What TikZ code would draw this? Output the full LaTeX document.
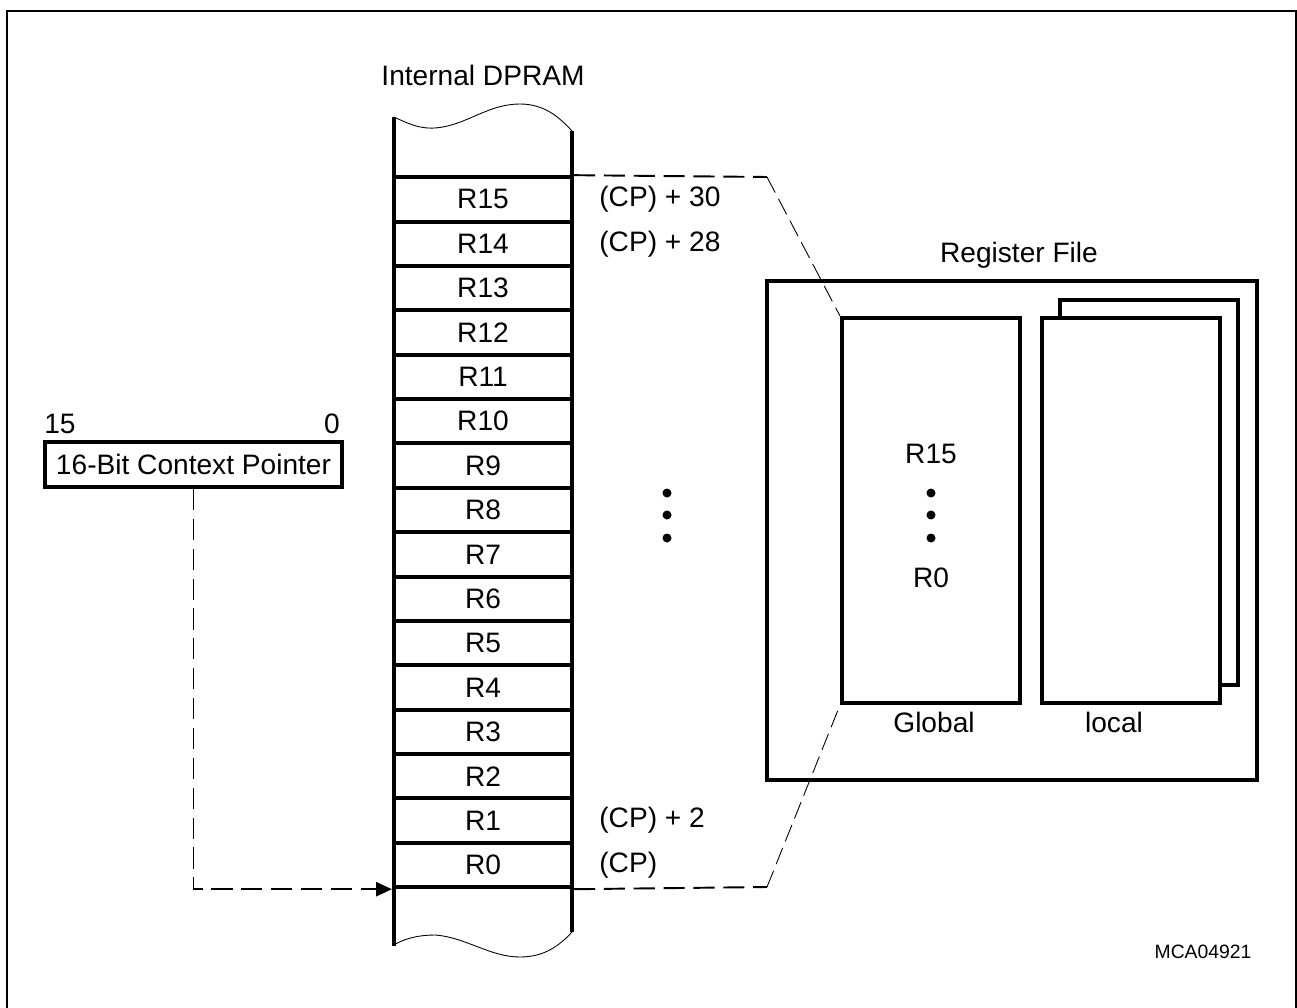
\documentclass[tikz,border=0pt]{standalone}
\usepackage{fontspec}
\setmainfont{Liberation Sans}
\usetikzlibrary{arrows.meta,positioning}

\begin{document}
\begin{tikzpicture}[x=0.02cm,y=-0.02cm,font=\fontsize{16}{19}\selectfont,
  reg/.style={draw,line width=2.3pt,minimum width=3.56cm,minimum height=0.8875cm,inner sep=0pt},
  bx/.style={draw,line width=2.3pt,fill=white,minimum width=3.56cm,minimum height=7.7cm},
  lbl/.style={inner sep=0pt},
  hdash/.style={line width=1.1pt,dash pattern=on 12pt off 5pt},
  ddash/.style={line width=0.5pt,dash pattern=on 10pt off 4pt},
  >=Stealth]
\useasboundingbox (0,0) rectangle (1297,1007);
\draw[line width=1.7pt] (7,1030) -- (7,11) -- (1296,11) -- (1296,1030);

\node at (483,75) {Internal DPRAM};
\foreach \i in {0,...,15}
  \node[reg] (r\i) at (483,{865-44.375*\i}) {R\i};
\draw[line width=2.3pt] (394,117) -- (394,946);
\draw[line width=2.3pt] (572,131) -- (572,932);
\draw[line width=0.5pt] (394,117) .. controls (415,127) and (425,130) .. (443,127)
  .. controls (470,122) and (490,104) .. (520,104) .. controls (545,104) and (560,118) .. (572,131);
\draw[line width=0.5pt] (394,945) .. controls (405,938) and (420,935) .. (435,935)
  .. controls (465,937) and (490,957) .. (520,957) .. controls (545,957) and (560,945) .. (572,932);

\node[lbl,right=0.5cm of r15] {(CP) + 30};
\node[lbl,right=0.5cm of r14] {(CP) + 28};
\node[lbl,right=0.5cm of r1] {(CP) + 2};
\node[lbl,right=0.5cm of r0] {(CP)};
\foreach \y in {493,515,538} \fill (667,\y) circle[radius=0.09cm];

\node at (1019,255) {Register File};
\node[draw,line width=2.3pt,minimum width=9.8cm,minimum height=10cm] (rf) at (1012,530.5) {};
\node[bx] (glob) at (931,510.5) {};
\node[bx] (lback) at (1149,492.5) {};
\node[bx] (loc) at (1131,510.5) {};
\node at (931,454) {R15};
\foreach \y in {493,515,538} \fill (931,\y) circle[radius=0.09cm];
\node at (931,578) {R0};
\node at (934,722) {Global};
\node at (1114,722) {local};

\draw[hdash] (r15.north east) -- (767,177) coordinate (t1);
\draw[ddash] (t1) -- (glob.north west);
\draw[hdash] (r0.south east) -- (767,887) coordinate (b1);
\draw[ddash] (b1) -- (glob.south west);

\node[lbl] at (60,424) {15};
\node[lbl,anchor=east] at (340,424) {0};
\node[draw,line width=2.3pt,minimum width=5.94cm,minimum height=0.9cm,inner sep=0pt] (cp) at (193.5,464.5) {16-Bit Context Pointer};
\draw[hdash,-{Triangle[length=9pt,width=8pt]}] (cp.south) -- (cp.south |- r0.south) -- (r0.south west);

\node[font=\fontsize{11}{13}\selectfont] at (1203,952) {MCA04921};
\end{tikzpicture}
\end{document}
